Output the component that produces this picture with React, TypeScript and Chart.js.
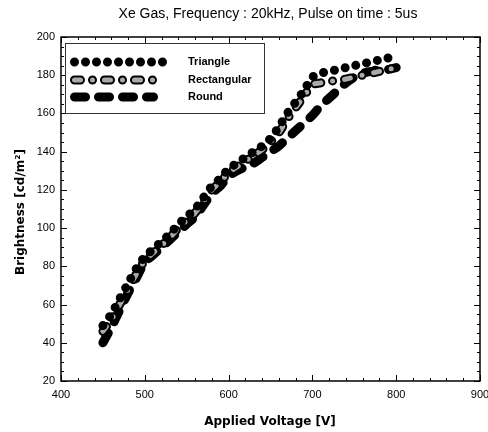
import { useEffect, useRef } from 'react';
import { Chart, registerables } from 'chart.js';

Chart.register(...registerables);

const voltage = [450, 460, 470, 480, 490, 500, 510, 520, 530, 540, 550, 560, 570, 580, 590, 600, 610, 620, 630, 640, 650, 660, 670, 680, 690, 700, 710, 720, 730, 740, 750, 760, 770, 780, 790, 800];
const triangle = [49, 55, 63, 71, 79, 85, 89, 93, 97, 102, 106, 110, 116, 122, 126, 131, 134, 137, 140, 143, 147, 153, 160, 166, 172, 179, 181, 182, 183, 184, 185, 186, 187, 188, 189, 190];
const rectangular = [46, 52, 60, 68, 76, 83, 87, 91, 95, 100, 104, 108, 114, 120, 124, 129, 132, 135, 138, 141, 145, 150, 157, 163, 169, 175, 176, 177, 177, 178, 179, 180, 181, 182, 183, 184];
const roundV = [40, 48, 57, 66, 74, 82, 86, 90, 94, 98, 102, 106, 112, 118, 122, 127, 130, 132, 134, 137, 140, 143, 147, 151, 155, 159, 164, 168, 172, 176, 179, 181, 182, 183, 183, 184];
const xTickValues = [400, 500, 600, 700, 800, 900];
const yTickValues = [20, 40, 60, 80, 100, 120, 140, 160, 180, 200];
const seriesNames = ['Triangle', 'Rectangular', 'Round'];
const chartTitle = 'Xe Gas, Frequency : 20kHz, Pulse on time : 5us';
const xTitle = 'Applied Voltage [V]';
const yTitle = 'Brightness [cd/m\u00B2]';

const FONT = '"Liberation Sans", Arial, sans-serif';
const TITLE_FONT = '"DejaVu Sans", Verdana, sans-serif';
const TRI_DASH = [0, 11];
const RECT_DASH = [6, 12, 0, 12];
const ROUND_DASH = [11, 13];
const LW = 9;

const toPts = (vals: number[]) => voltage.map((v, i) => ({ x: v, y: vals[i] }));

const decor = {
  id: 'decor',
  afterDraw(chart: any) {
    const { ctx, chartArea: a, scales } = chart;
    const x = scales.x;
    const y = scales.y;
    ctx.save();
    // frame
    ctx.strokeStyle = '#000';
    ctx.lineWidth = 1.5;
    ctx.strokeRect(a.left, a.top, a.right - a.left, a.bottom - a.top);
    // ticks inward on all four sides
    ctx.lineWidth = 1;
    ctx.beginPath();
    for (let v = xTickValues[0]; v <= xTickValues[xTickValues.length - 1]; v += 20) {
      const px = Math.round(x.getPixelForValue(v)) + 0.5;
      const len = v % 100 === 0 ? 6 : 3;
      ctx.moveTo(px, a.bottom);
      ctx.lineTo(px, a.bottom - len);
      ctx.moveTo(px, a.top);
      ctx.lineTo(px, a.top + len);
    }
    for (let v = yTickValues[0]; v <= yTickValues[yTickValues.length - 1]; v += 5) {
      const py = Math.round(y.getPixelForValue(v)) + 0.5;
      const len = v % 20 === 0 ? 6 : 3;
      ctx.moveTo(a.left, py);
      ctx.lineTo(a.left + len, py);
      ctx.moveTo(a.right, py);
      ctx.lineTo(a.right - len, py);
    }
    ctx.stroke();

    // legend box
    const bx = 65, by = 43, bw = 199, bh = 70;
    ctx.fillStyle = '#fff';
    ctx.fillRect(bx, by, bw, bh);
    ctx.strokeStyle = '#333';
    ctx.lineWidth = 1;
    ctx.strokeRect(bx + 0.5, by + 0.5, bw, bh);

    const rows = [62, 80, 97];
    const x0 = 74.5;
    const drawSample = (yy: number, dash: number[], width: number, color: string, len: number) => {
      ctx.beginPath();
      ctx.setLineDash(dash);
      ctx.lineDashOffset = 0;
      ctx.lineCap = 'round';
      ctx.lineWidth = width;
      ctx.strokeStyle = color;
      ctx.moveTo(x0, yy);
      ctx.lineTo(x0 + len, yy);
      ctx.stroke();
    };
    drawSample(rows[0], TRI_DASH, LW, '#000', 88.5);
    drawSample(rows[1], RECT_DASH, LW, '#000', 78.5);
    drawSample(rows[1], RECT_DASH, 5, '#aaa', 78.5);
    drawSample(rows[2], ROUND_DASH, LW, '#000', 79);
    ctx.setLineDash([]);

    ctx.fillStyle = '#000';
    ctx.font = `bold 11px ${FONT}`;
    ctx.textAlign = 'left';
    ctx.textBaseline = 'middle';
    seriesNames.forEach((n, i) => ctx.fillText(n, 188, rows[i]));

    // titles
    ctx.font = `14px ${FONT}`;
    ctx.textAlign = 'center';
    ctx.fillText(chartTitle, 268, 14);

    ctx.font = `bold 12px ${TITLE_FONT}`;
    ctx.fillText(xTitle, 270, 422);

    ctx.save();
    ctx.translate(21, 212);
    ctx.rotate(-Math.PI / 2);
    ctx.fillText(yTitle, 0, 0);
    ctx.restore();

    ctx.restore();
  },
};

export default function App() {
  const ref = useRef<HTMLCanvasElement | null>(null);
  useEffect(() => {
    if (!ref.current) return;
    const common = {
      pointRadius: 0,
      fill: false,
      tension: 0.3,
      borderCapStyle: 'round' as const,
      borderJoinStyle: 'round' as const,
      borderWidth: LW,
    };
    const chart = new Chart(ref.current, {
      type: 'line',
      data: {
        datasets: [
          { ...common, label: seriesNames[0], data: toPts(triangle), borderColor: '#000', borderDash: TRI_DASH, order: 1 },
          { ...common, label: seriesNames[1] + ' fill', data: toPts(rectangular), borderColor: '#aaa', borderWidth: 5, borderDash: RECT_DASH, order: 2 },
          { ...common, label: seriesNames[1], data: toPts(rectangular), borderColor: '#000', borderDash: RECT_DASH, order: 3 },
          { ...common, label: seriesNames[2], data: toPts(roundV), borderColor: '#000', borderDash: ROUND_DASH, order: 4 },
        ],
      },
      options: {
        animation: false,
        responsive: false,
        layout: { padding: { top: 37, right: 8, left: 0, bottom: 0 } },
        plugins: { legend: { display: false }, title: { display: false }, tooltip: { enabled: false } },
        scales: {
          x: {
            type: 'linear',
            min: 400,
            max: 900,
            grid: { display: false, drawTicks: false },
            border: { display: false },
            afterFit: (s: any) => { s.height = 51; s.paddingRight = 0; s.paddingLeft = 0; },
            afterBuildTicks: (s: any) => { s.ticks = xTickValues.map((v) => ({ value: v })); },
            ticks: { color: '#000', font: { family: FONT, size: 11 }, padding: 7, maxRotation: 0 },
          },
          y: {
            type: 'linear',
            min: 20,
            max: 200,
            grid: { display: false, drawTicks: false },
            border: { display: false },
            afterFit: (s: any) => { s.width = 61; s.paddingTop = 0; s.paddingBottom = 0; },
            afterBuildTicks: (s: any) => { s.ticks = yTickValues.map((v) => ({ value: v })); },
            ticks: { color: '#000', font: { family: FONT, size: 11 }, padding: 6 },
          },
        },
      },
      plugins: [decor],
    });
    return () => chart.destroy();
  }, []);
  return (
    <div style={{ position: 'fixed', left: 0, top: 0, width: 488, height: 432, background: '#fff' }}>
      <canvas ref={ref} width={488} height={432} />
    </div>
  );
}
